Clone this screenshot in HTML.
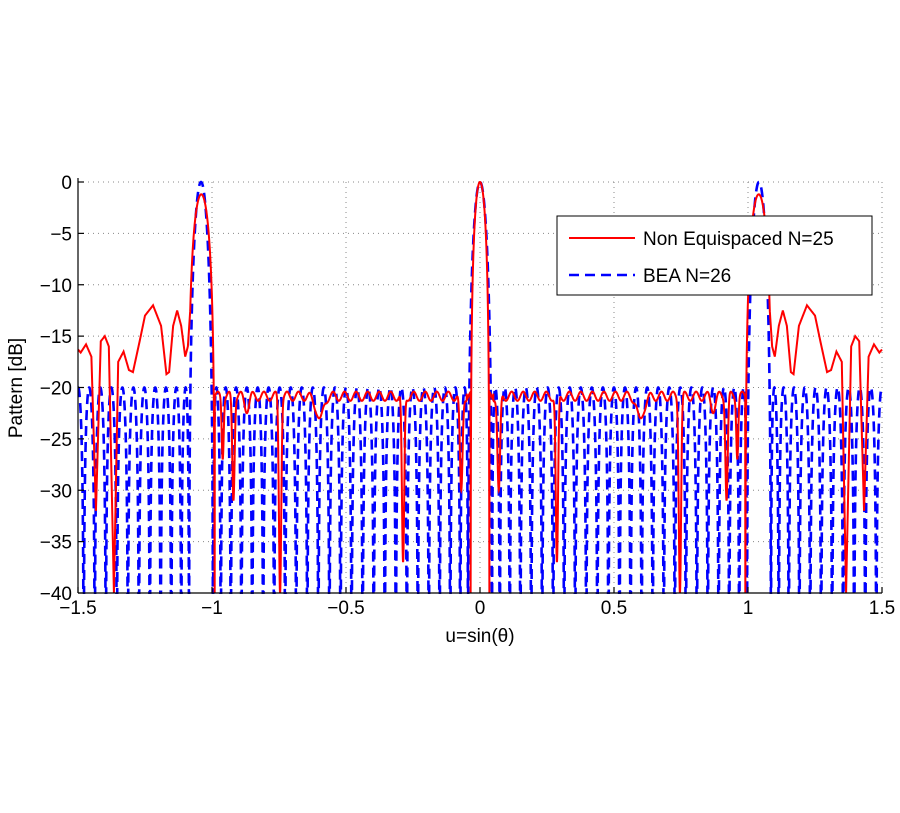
<!DOCTYPE html>
<html><head><meta charset="utf-8"><style>
html,body{margin:0;padding:0;background:#fff;}
svg{display:block;font-family:"Liberation Sans",sans-serif;}
</style></head><body>
<svg id="s" width="900" height="813" viewBox="0 0 900 813" xmlns="http://www.w3.org/2000/svg">
<defs><clipPath id="c"><rect x="78" y="178" width="806" height="416"/></clipPath></defs>
<g id="grid" stroke="#888" stroke-width="1" stroke-dasharray="1,4"></g>
<g clip-path="url(#c)">
<polyline id="blue" fill="none" stroke="#0000ff" stroke-width="2.6" stroke-dasharray="10,6"/>
<polyline id="red" fill="none" stroke="#ff0000" stroke-width="2"/>
</g>
<g id="axes" stroke="#000" stroke-width="1.2"></g>
<g id="labels" font-size="19" fill="#000"></g>
<text x="480" y="642" font-size="19" text-anchor="middle">u=sin(θ)</text>
<text transform="translate(22,388) rotate(-90)" font-size="19" text-anchor="middle">Pattern [dB]</text>
<rect x="557" y="216" width="315" height="79" fill="#fff" stroke="#000" stroke-width="1"/>
<line x1="569" y1="238" x2="635" y2="238" stroke="#ff0000" stroke-width="2"/>
<text x="643" y="245" font-size="19">Non Equispaced N=25</text>
<line x1="569" y1="275" x2="635" y2="275" stroke="#0000ff" stroke-width="2.6" stroke-dasharray="10,6"/>
<text x="643" y="282" font-size="19">BEA N=26</text>
</svg>
<script>
var X0=78,X1=882,Y0=182,Y1=593;
function px(u){return X0+(u+1.5)/3*(X1-X0);}
function py(d){return Y0+(-d)/40*(Y1-Y0);}
var NS="http://www.w3.org/2000/svg";
function el(p,t,a,txt){var e=document.createElementNS(NS,t);for(var k in a)e.setAttribute(k,a[k]);if(txt!=null)e.textContent=txt;p.appendChild(e);return e;}
var g=document.getElementById('grid'),ax=document.getElementById('axes'),lb=document.getElementById('labels');
var xt=[-1.5,-1,-0.5,0,0.5,1,1.5],xl=["\u22121.5","\u22121","\u22120.5","0","0.5","1","1.5"];
xt.forEach(function(u,i){var x=px(u);if(i>0)el(g,'line',{x1:x,y1:Y0,x2:x,y2:Y1});
el(ax,'line',{x1:x,y1:Y1,x2:x,y2:Y1-6});el(lb,'text',{x:x,y:Y1+21,'text-anchor':'middle'},xl[i]);});
for(var d=0;d>=-40;d-=5){var y=py(d);if(d>-40)el(g,'line',{x1:X0,y1:y,x2:X1,y2:y});
el(ax,'line',{x1:X0,y1:y,x2:X0+6,y2:y});el(lb,'text',{x:X0-6,y:y+7,'text-anchor':'end'},d==0?"0":"\u2212"+(-d));}
el(ax,'line',{x1:X0,y1:Y1,x2:X1,y2:Y1});el(ax,'line',{x1:X0,y1:Y0-4,x2:X0,y2:Y1});
var N=26,R=10,x0=Math.cosh(Math.acosh(R)/(N-1)),dd=1/1.041;
function T(n,x){if(Math.abs(x)<=1)return Math.cos(n*Math.acos(x));var v=Math.cosh(n*Math.acosh(Math.abs(x)));return (x<0&&n%2)?-v:v;}
var pb=[];for(var i=0;i<=8000;i++){var u=-1.5+3*i/8000;var v=Math.abs(T(N-1,x0*Math.cos(Math.PI*dd*u)))/R;var db=20*Math.log10(Math.max(v,1e-6));if(db<-41)db=-41;pb.push(px(u).toFixed(2)+","+py(db).toFixed(2));}
document.getElementById('blue').setAttribute('points',pb.join(' '));
var kp=[[1.06,-3],[1.075,-10],[1.09,-16],[1.1,-17],[1.115,-14],[1.13,-12.5],[1.145,-14],[1.16,-18.5],[1.17,-18.7],[1.19,-14],[1.22,-12],[1.25,-13],[1.27,-15.5],[1.295,-18.5],[1.31,-18.3],[1.33,-16.5],[1.35,-17.5],[1.366,-40],[1.385,-16],[1.40,-15],[1.415,-15.5],[1.433,-32],[1.45,-17],[1.47,-15.8],[1.49,-16.6],[1.5,-16.3]];
function interp(a){for(var i=0;i<kp.length-1;i++){if(a>=kp[i][0]&&a<=kp[i+1][0]){var t=(a-kp[i][0])/(kp[i+1][0]-kp[i][0]);return kp[i][1]+t*(kp[i+1][1]-kp[i][1]);}}return -40;}
var dips=[[0.07,-30,0.007],[0.287,-37,0.006],[0.6,-23,0.02],[0.746,-40,0.006],[0.87,-22.5,0.01],[0.92,-31,0.006],[0.96,-27,0.005]];
function red(u){var a=Math.abs(u),v;
if(a<0.035){v=20*Math.log10(Math.max(Math.cos(Math.PI*a/0.07),1e-3));return Math.max(v,-40);}
if(a<0.99){var base=-20.4-0.9*(1+Math.sin(2*Math.PI*a/0.043))/2;if(a<0.05)base=Math.max(base,-20.4-(0.05-a)*400);
v=base;dips.forEach(function(dp){var w=base+(dp[1]-base)*Math.exp(-Math.pow((a-dp[0])/dp[2],2));if(w<v)v=w;});return v;}
var lobe=-40;if(Math.abs(a-1.04)<0.05){var c=Math.cos(Math.PI*(a-1.04)/0.1);lobe=-1.2+20*Math.log10(Math.max(c,1e-3));}
if(a<=1.04)return Math.max(lobe,-40);return Math.max(lobe,interp(a));}
var pr=[];for(var i=0;i<=6000;i++){var u=-1.5+3*i/6000;var db=Math.max(red(u),-41);pr.push(px(u).toFixed(2)+","+py(db).toFixed(2));}
document.getElementById('red').setAttribute('points',pr.join(' '));
</script>
</body></html>
